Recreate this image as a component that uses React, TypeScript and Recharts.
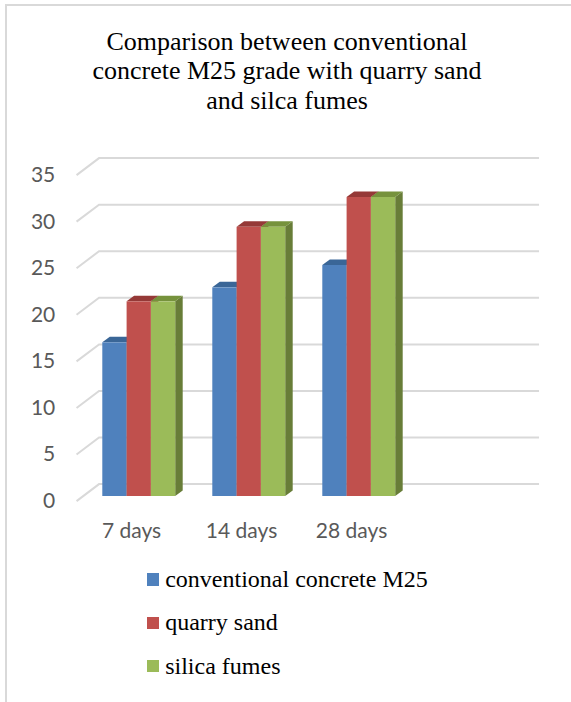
import React from 'react'
import { Bar, BarChart, CartesianGrid, Legend, XAxis, YAxis } from 'recharts'

const days = ['7 days', '14 days', '28 days', '']
const conventional = [16.5, 22.4, 24.8, null]
const quarrySand = [20.9, 28.9, 32.1, null]
const silicaFumes = [20.9, 28.9, 32.1, null]
const yTicks = [0, 5, 10, 15, 20, 25, 30, 35]

const seriesInfo = [
  { key: 'conventional', name: 'conventional concrete M25', front: '#4f81bd', top: '#3a6697', side: '#385d8a' },
  { key: 'quarry', name: 'quarry sand', front: '#c0504d', top: '#953937', side: '#8c3836' },
  { key: 'silica', name: 'silica fumes', front: '#9bbb59', top: '#76923c', side: '#687d38' },
]

const data = days.map((day, i) => ({
  day,
  conventional: conventional[i],
  quarry: quarrySand[i],
  silica: silicaFumes[i],
}))

// 3d look: bar plane sits between front edge and back wall
const BAR_DX = 7.5
const BAR_DY = 5.5
const FRONT_DX = -6.75
const FRONT_DY = 5.1
const BACK_DX = 15.75
const BACK_DY = -11.9

const Bar3D = (props: any) => {
  const { x, y, width, height, colors } = props
  if (height == null || height <= 0) return null
  const b = y + height
  const r = x + width
  return (
    <g>
      <polygon points={`${r},${y} ${r + BAR_DX},${y - BAR_DY} ${r + BAR_DX},${b - BAR_DY} ${r},${b}`} fill={colors.side} />
      <polygon points={`${x},${y} ${x + BAR_DX},${y - BAR_DY} ${r + BAR_DX},${y - BAR_DY} ${r},${y}`} fill={colors.top} />
      <rect x={x} y={y} width={width} height={height} fill={colors.front} />
    </g>
  )
}

const GridLine = (props: any) => {
  const { x1, x2, y1, index } = props
  return (
    <polyline
      key={`grid-${index}`}
      points={`${x1 + FRONT_DX},${y1 + FRONT_DY} ${x1 + BACK_DX},${y1 + BACK_DY} ${x2 + BACK_DX},${y1 + BACK_DY}`}
      fill="none"
      stroke="#d9d9d9"
      strokeWidth={2}
    />
  )
}

const YTick = (props: any) => {
  const { x, y, payload } = props
  return (
    <text x={x} y={y + 12} textAnchor="end" fill="#595959" fontSize={21} fontFamily="Lato">
      {payload.value}
    </text>
  )
}

const XTick = (props: any) => {
  const { x, y, payload } = props
  return (
    <text x={x + FRONT_DX} y={y + 41.5} textAnchor="middle" fill="#595959" fontSize={21} fontFamily="Lato">
      {payload.value}
    </text>
  )
}

const LegendBox = () => (
  <div>
    {seriesInfo.map((s) => (
      <div key={s.key} style={{ display: 'flex', alignItems: 'center', height: 43.3 }}>
        <span style={{ display: 'inline-block', width: 12.5, height: 12.5, background: s.front, marginRight: 6 }} />
        <span style={{ fontFamily: '"Liberation Serif", serif', fontSize: 24, color: '#000' }}>{s.name}</span>
      </div>
    ))}
  </div>
)

const App: React.FC = () => {
  return (
    <div style={{ position: 'absolute', left: 0, top: 0, width: 571, height: 702, background: '#fff' }}>
      <div style={{ position: 'absolute', left: 5, top: 4, width: 570, height: 700, borderLeft: '2px solid #d9d9d9', borderTop: '2px solid #d9d9d9' }} />
      <div
        style={{
          position: 'absolute',
          left: 0,
          top: 27,
          width: 574,
          textAlign: 'center',
          fontFamily: '"Liberation Serif", serif',
          fontSize: 26,
          lineHeight: '29.3px',
          color: '#000',
        }}
      >
        Comparison between conventional
        <br />
        concrete M25 grade with quarry sand
        <br />
        and silca fumes
      </div>
      <div style={{ position: 'absolute', left: 0, top: 0 }}>
        <BarChart
          width={571}
          height={702}
          data={data}
          margin={{ top: 170, right: 47.7, bottom: 176, left: 23.3 }}
          barGap={0}
          barSize={24.3}
        >
          <CartesianGrid horizontal={GridLine} vertical={false} />
          <XAxis dataKey="day" axisLine={false} tickLine={false} tickSize={0} tickMargin={0} height={30} interval={0} tick={XTick} />
          <YAxis
            domain={[0, 35]}
            ticks={yTicks}
            axisLine={false}
            tickLine={false}
            tickSize={0}
            tickMargin={28}
            width={60}
            tick={YTick}
          />
          <Legend
            layout="vertical"
            align="center"
            verticalAlign="middle"
            content={LegendBox}
            wrapperStyle={{ left: 146.7, top: 558, width: 340, height: 130 }}
          />
          {seriesInfo.map((s) => (
            <Bar
              key={s.key}
              dataKey={s.key}
              name={s.name}
              fill={s.front}
              isAnimationActive={false}
              shape={(p: any) => <Bar3D {...p} colors={s} />}
            />
          ))}
        </BarChart>
      </div>
    </div>
  )
}

export default App
